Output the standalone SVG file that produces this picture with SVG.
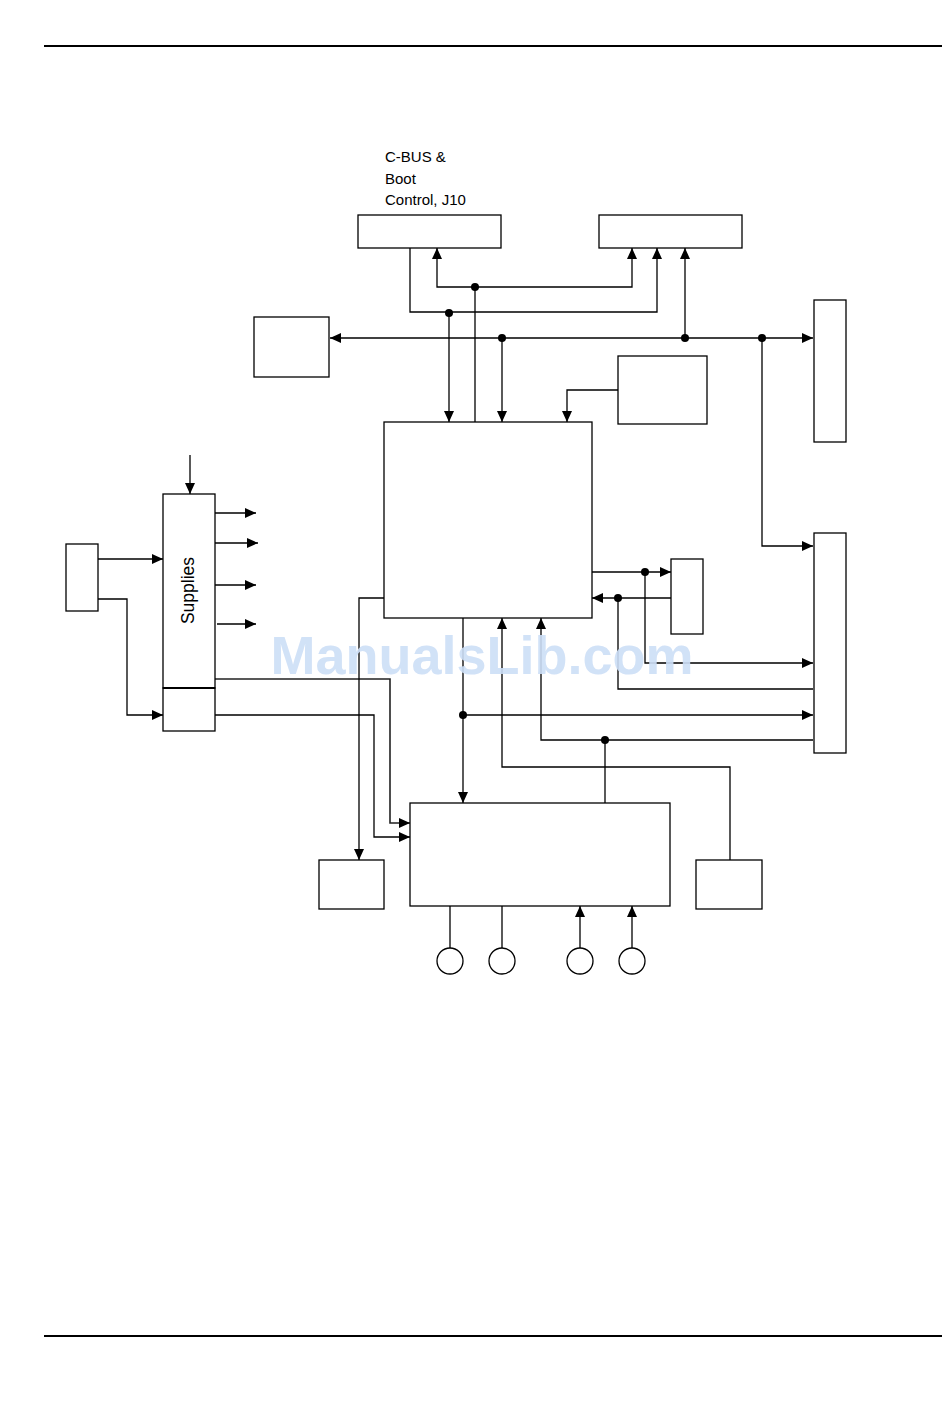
<svg xmlns="http://www.w3.org/2000/svg" width="950" height="1420" viewBox="0 0 950 1420">
<defs>
<style>
.box{fill:#fff;stroke:#000;stroke-width:1.3}
.ln{fill:none;stroke:#000;stroke-width:1.3}
.ar{fill:none;stroke:#000;stroke-width:1.3;marker-end:url(#ah)}
.dot{fill:#000}
.lbl{font-family:"Liberation Sans",Arial,sans-serif;font-size:15px;fill:#000}
.rule{stroke:#000;stroke-width:2}
</style>
<marker id="ah" markerUnits="userSpaceOnUse" markerWidth="12" markerHeight="11" refX="11" refY="5.5" orient="auto">
<path d="M0,0.5 L11,5.5 L0,10.5 z" fill="#000"/>
</marker>
</defs>
<rect width="950" height="1420" fill="#fff"/>
<line class="rule" x1="44" y1="46" x2="942" y2="46"/>
<line class="rule" x1="44" y1="1336" x2="942" y2="1336"/>

<g id="label-cbus">
<text class="lbl" x="385" y="162">C-BUS &amp;</text>
<text class="lbl" x="385" y="184">Boot</text>
<text class="lbl" x="385" y="205">Control, J10</text>
</g>

<g id="connectors">
<path class="ar" d="M475,287 H437 V248"/>
<path class="ar" d="M475,287 H632 V248"/>
<path class="ln" d="M475,287 V423"/>
<path class="ar" d="M410,248 V312 H657 V248"/>
<path class="ar" d="M449,312 V422"/>
<path class="ar" d="M502,338 H330"/>
<path class="ar" d="M502,338 H813"/>
<path class="ar" d="M685,338 V248"/>
<path class="ar" d="M502,338 V422"/>
<path class="ar" d="M762,338 V546 H813"/>
<path class="ar" d="M618,390 H567 V422"/>
<path class="ar" d="M190,455 V494"/>
<path class="ar" d="M215,513 H256"/>
<path class="ar" d="M215,543 H258"/>
<path class="ar" d="M215,585 H256"/>
<path class="ar" d="M217,624 H256"/>
<path class="ar" d="M98,559 H163"/>
<path class="ar" d="M98,599 H127 V715 H163"/>
<path class="ar" d="M215,679 H390 V823 H410" style="stroke:#222;stroke-width:1.6"/>
<path class="ar" d="M215,715 H374 V837 H410"/>
<path class="ar" d="M384,598 H359 V860"/>
<path class="ar" d="M592,572 H671"/>
<path class="ar" d="M672,598 H592"/>
<path class="ar" d="M645,572 V663 H813"/>
<path class="ln" d="M618,598 V689 H813"/>
<path class="ar" d="M463,618 V803"/>
<path class="ar" d="M463,715 H813"/>
<path class="ar" d="M730,860 V767 H502 V618"/>
<path class="ar" d="M813,740 H541 V618"/>
<path class="ln" d="M605,740 V803"/>
<path class="ln" d="M450,906 V948"/>
<path class="ln" d="M502,906 V948"/>
<path class="ar" d="M580,948 V906"/>
<path class="ar" d="M632,948 V906"/>
<circle class="dot" cx="475" cy="287" r="4"/>
<circle class="dot" cx="449" cy="313" r="4"/>
<circle class="dot" cx="502" cy="338" r="4"/>
<circle class="dot" cx="685" cy="338" r="4"/>
<circle class="dot" cx="762" cy="338" r="4"/>
<circle class="dot" cx="645" cy="572" r="4"/>
<circle class="dot" cx="618" cy="598" r="4"/>
<circle class="dot" cx="463" cy="715" r="4"/>
<circle class="dot" cx="605" cy="740" r="4"/>
</g>

<g id="box-top-left"><rect class="box" x="358" y="215" width="143" height="33"/></g>
<g id="box-top-right"><rect class="box" x="599" y="215" width="143" height="33"/></g>
<g id="box-left"><rect class="box" x="254" y="317" width="75" height="60"/></g>
<g id="box-right-tall"><rect class="box" x="814" y="300" width="32" height="142"/></g>
<g id="box-small-right"><rect class="box" x="618" y="356" width="89" height="68"/></g>
<g id="box-main"><rect class="box" x="384" y="422" width="208" height="196"/></g>
<g id="box-supplies">
<rect class="box" x="163" y="494" width="52" height="194"/>
<text class="lbl" style="font-size:17.5px" transform="translate(194,590.5) rotate(-90)" text-anchor="middle">Supplies</text>
</g>
<g id="box-supplies-lower">
<rect class="box" x="163" y="688" width="52" height="43"/>
<line x1="163" y1="688" x2="215" y2="688" stroke="#000" stroke-width="2.2"/>
</g>
<g id="box-left-small"><rect class="box" x="66" y="544" width="32" height="67"/></g>
<g id="box-mid-small"><rect class="box" x="671" y="559" width="32" height="75"/></g>
<g id="box-right-lower"><rect class="box" x="814" y="533" width="32" height="220"/></g>
<g id="box-bottom"><rect class="box" x="410" y="803" width="260" height="103"/></g>
<g id="box-bottom-left"><rect class="box" x="319" y="860" width="65" height="49"/></g>
<g id="box-bottom-right"><rect class="box" x="696" y="860" width="66" height="49"/></g>
<g id="circles">
<circle class="box" cx="450" cy="961" r="13"/>
<circle class="box" cx="502" cy="961" r="13"/>
<circle class="box" cx="580" cy="961" r="13"/>
<circle class="box" cx="632" cy="961" r="13"/>
</g>

<text x="482" y="674" text-anchor="middle" style="font-family:'Liberation Sans',Arial,sans-serif;font-weight:bold;font-size:54px;fill:#cddff7;opacity:0.9">ManualsLib.com</text>
</svg>
